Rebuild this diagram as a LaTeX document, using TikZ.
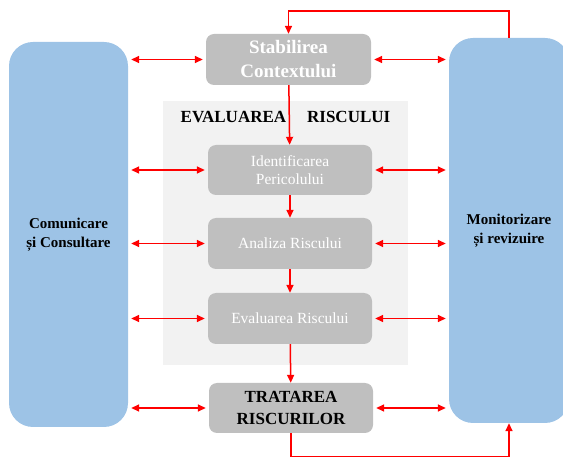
\documentclass[tikz,border=0pt]{standalone}
\usepackage{fontspec}
\setmainfont{Liberation Serif}
\usetikzlibrary{arrows.meta}
\definecolor{boxgray}{HTML}{BFBFBF}
\definecolor{sideblue}{HTML}{9DC3E6}
\definecolor{evalbg}{HTML}{F2F2F2}
\begin{document}
\begin{tikzpicture}[x=1pt,y=-1pt,
    proc/.style={fill=boxgray,rounded corners=8pt,minimum width=164pt,minimum height=50pt,inner sep=0pt,align=center},
    side/.style={fill=sideblue,rounded corners=24pt,minimum width=120pt,minimum height=385pt,inner sep=0pt,align=center,font=\fontsize{15}{19}\selectfont\bfseries},
    flow/.style={red,line width=1.5pt,-{Triangle[length=8pt,width=7pt]}},
    both/.style={flow,{Triangle[length=8pt,width=7pt]}-{Triangle[length=8pt,width=7pt]},shorten <=3pt,shorten >=3pt}]
        \useasboundingbox (0,0) rectangle (563,457);

        % evaluation zone
        \fill[evalbg] (163,101) rectangle (408,365);
        \node (evaltitle) at (285.5,117) {\fontsize{17}{20}\selectfont\bfseries EVALUAREA\hspace{21pt}RISCULUI};

        \node (comm)  at (68.5,234.5) [side,minimum width=119pt] {Comunicare\\și Consultare};
        \node (monit) at (509,230.5)  [side] {Monitorizare\\și revizuire};

        \node (stab)  at (288.5,59.5) [proc,minimum width=165pt,minimum height=51pt,text=white,font=\fontsize{19}{24}\selectfont\bfseries] {Stabilirea\\Contextului};
        \node (ident) at (290,170)    [proc,text=white,font=\fontsize{15.5}{18.5}\selectfont] {Identificarea\\Pericolului};
        \node (anal)  at (290,243.5)  [proc,minimum height=51pt,text=white,font=\fontsize{15.5}{18.5}\selectfont] {Analiza Riscului};
        \node (eval)  at (290,318.5)  [proc,minimum height=51pt,text=white,font=\fontsize{15.5}{18.5}\selectfont] {Evaluarea Riscului};
        \node (trat)  at (291,408)    [proc,font=\fontsize{17}{22}\selectfont\bfseries] {TRATAREA\\RISCURILOR};

        \draw[flow] (stab) -- (ident);
        \draw[flow] (ident) -- (anal);
        \draw[flow] (anal) -- (eval);
        \draw[flow] (eval) -- (trat);

        \draw[both] (stab.west -| comm.east)  -- (stab.west);
        \draw[both] (ident.west -| comm.east) -- (ident.west);
        \draw[both] (anal.west -| comm.east)  -- (anal.west);
        \draw[both] (eval.west -| comm.east)  -- (eval.west);
        \draw[both] (trat.west -| comm.east)  -- (trat.west);

        \draw[both] (stab.east)  -- (stab.east -| monit.west);
        \draw[both] (ident.east) -- (ident.east -| monit.west);
        \draw[both] (anal.east)  -- (anal.east -| monit.west);
        \draw[both] (eval.east)  -- (eval.east -| monit.west);
        \draw[both] (trat.east)  -- (trat.east -| monit.west);

        % feedback loops
        \coordinate (looptop) at (288.5,11);
        \coordinate (loopbot) at (291,456.5);
        \draw[flow] (monit.north) |- (looptop) -- (stab.north);
        \draw[flow] (trat.south) -- (loopbot) -| (monit.south);
      \end{tikzpicture}
\end{document}
